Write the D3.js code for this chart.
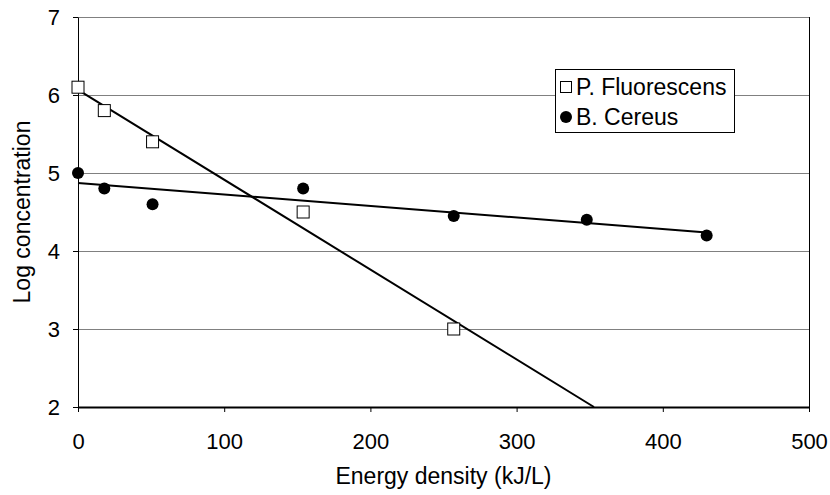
<!doctype html>
<html>
  <head>
    <script src="https://cdnjs.cloudflare.com/ajax/libs/d3/7.8.5/d3.min.js"></script>
    <style>
      body { margin: 0; background: #fff; }
      svg { font-family: "Liberation Sans", Arial, sans-serif; }
      .grid line { stroke: #808080; stroke-width: 1; }
      .axis path, .axis line { stroke: #000; }
      .axis text { font-size: 22px; fill: #000; }
      .trend { fill: none; stroke: #000; stroke-width: 2; }
      rect.pf { fill: #fff; stroke: #000; stroke-width: 1; }
      circle.bc { fill: #000; }
      .label { font-size: 23px; fill: #000; }
      .legend text { font-size: 23px; fill: #000; }
    </style>
  </head>
  <body>
    <svg width="830" height="495"></svg>
    <script>
      // P. Fluorescens (squares)
      var pfEnergy = [0, 18, 51, 154, 257];
      var pfLog = [6.1, 5.8, 5.4, 4.5, 3.0];
      // B. Cereus (circles)
      var bcEnergy = [0, 18, 51, 154, 257, 348, 430];
      var bcLog = [5.0, 4.8, 4.6, 4.8, 4.45, 4.4, 4.2];

      var xTicks = [0, 100, 200, 300, 400, 500];
      var yTicks = [2, 3, 4, 5, 6, 7];
      var seriesNames = ["P. Fluorescens", "B. Cereus"];

      var margin = {top: 17, right: 21, bottom: 88, left: 78};
      var W = 830, H = 495;
      var w = W - margin.left - margin.right;
      var h = H - margin.top - margin.bottom;

      var svg = d3.select("svg");
      var g = svg.append("g").attr("transform", "translate(" + margin.left + "," + margin.top + ")");

      var x = d3.scaleLinear().domain([0, 500]).range([0, w]);
      var y = d3.scaleLinear().domain([2, 7]).range([h, 0]);

      // horizontal gridlines
      g.append("g").attr("class", "grid")
        .selectAll("line").data(yTicks.filter(d => d > 2))
        .enter().append("line")
          .attr("x1", 0).attr("x2", w)
          .attr("y1", d => Math.round(y(d)) + 0.5).attr("y2", d => Math.round(y(d)) + 0.5);

      // right border
      g.append("line")
        .attr("x1", w + 0.5).attr("x2", w + 0.5)
        .attr("y1", 0).attr("y2", h)
        .attr("stroke", "#000");

      var xAxis = g.append("g").attr("class", "axis")
        .attr("transform", "translate(0," + h + ")")
        .call(d3.axisBottom(x).tickValues(xTicks).tickFormat(d3.format("d"))
          .tickSize(5).tickPadding(21).tickSizeOuter(0));
      xAxis.select(".domain").attr("stroke-width", 2);

      g.append("g").attr("class", "axis")
        .call(d3.axisLeft(y).tickValues(yTicks).tickFormat(d3.format("d"))
          .tickSize(5).tickPadding(13).tickSizeOuter(0));

      function fit(xs, ys) {
        var mx = d3.mean(xs), my = d3.mean(ys);
        var sxy = d3.sum(xs, (v, i) => (v - mx) * (ys[i] - my));
        var sxx = d3.sum(xs, v => (v - mx) * (v - mx));
        var b = sxy / sxx;
        return {b: b, a: my - b * mx};
      }

      var pfFit = fit(pfEnergy, pfLog);
      var bcFit = fit(bcEnergy, bcLog);
      var pfEnd = (2 - pfFit.a) / pfFit.b;
      var bcEnd = d3.max(bcEnergy);

      var line = d3.line().x(d => x(d[0])).y(d => y(d[1]));
      g.append("path").attr("class", "trend")
        .attr("d", line([[0, pfFit.a], [pfEnd, pfFit.a + pfFit.b * pfEnd]]));
      g.append("path").attr("class", "trend")
        .attr("d", line([[0, bcFit.a], [bcEnd, bcFit.a + bcFit.b * bcEnd]]));

      var s = 12;
      g.selectAll("rect.pf").data(pfEnergy)
        .enter().append("rect").attr("class", "pf")
          .attr("x", (d, i) => x(d) - s / 2)
          .attr("y", (d, i) => y(pfLog[i]) - s / 2)
          .attr("width", s).attr("height", s);

      g.selectAll("circle.bc").data(bcEnergy)
        .enter().append("circle").attr("class", "bc")
          .attr("cx", d => x(d))
          .attr("cy", (d, i) => y(bcLog[i]))
          .attr("r", 6);

      // axis titles
      svg.append("text").attr("class", "label")
        .attr("x", margin.left + x(250)).attr("y", 484)
        .attr("text-anchor", "middle")
        .text("Energy density (kJ/L)");
      svg.append("text").attr("class", "label")
        .attr("transform", "translate(30," + (margin.top + h / 2) + ") rotate(-90)")
        .attr("text-anchor", "middle")
        .text("Log concentration");

      // legend
      var lg = svg.append("g").attr("class", "legend");
      lg.append("rect")
        .attr("x", 555.5).attr("y", 69.5).attr("width", 179).attr("height", 63)
        .attr("fill", "#fff").attr("stroke", "#000");
      lg.append("rect").attr("class", "pf")
        .attr("x", 560.5).attr("y", 81.5).attr("width", 11).attr("height", 11);
      lg.append("circle").attr("class", "bc")
        .attr("cx", 566).attr("cy", 117).attr("r", 6);
      lg.selectAll("text").data(seriesNames)
        .enter().append("text")
          .attr("x", 576).attr("y", (d, i) => 95 + i * 30)
          .text(d => d);
    </script>
  </body>
</html>
